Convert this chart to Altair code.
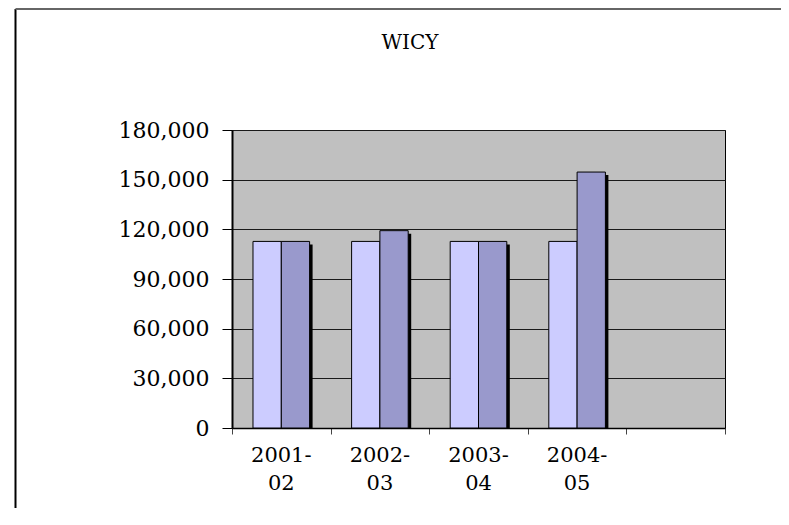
import altair as alt
import pandas as pd

title_text = ["WICY"]
years = ["2001-02", "2002-03", "2003-04", "2004-05"]
year_labels = ["2001-\n02", "2002-\n03", "2003-\n04", "2004-\n05"]
slots = years + ["_"]
series_a = [112700, 112700, 112700, 112700]
series_b = [112700, 119200, 112700, 154600]
y_ticks = [0, 30000, 60000, 90000, 120000, 150000, 180000]

rows = []
for yr, a, b in zip(years, series_a, series_b):
    rows.append({"year": yr, "series": "A", "value": a})
    rows.append({"year": yr, "series": "B", "value": b})
df = pd.DataFrame(rows)
lab_df = pd.DataFrame({"year": years, "label": year_labels})
title_df = pd.DataFrame({"t": title_text})

W, H = 493, 298
PL, PT = 224, 122
STEP = W / len(slots)

x_enc = alt.X(
    "year:N",
    scale=alt.Scale(domain=slots, paddingInner=0, paddingOuter=0),
    axis=alt.Axis(
        title=None,
        labels=False,
        tickBand="extent",
        tickSize=6,
        tickColor="#444444",
        domainColor="#000000",
        domainWidth=1.5,
        grid=False,
    ),
)
y_enc = alt.Y(
    "value:Q",
    scale=alt.Scale(domain=[0, 180000], nice=False),
    axis=alt.Axis(
        title=None,
        values=y_ticks,
        format=",.0f",
        tickSize=10,
        tickColor="#000000",
        domainColor="#000000",
        domainWidth=2,
        labelFont="DejaVu Serif",
        labelFontSize=22,
        labelColor="#000000",
        labelPadding=13,
        grid=True,
        gridColor="#1a1a1a",
        gridWidth=1,
    ),
)

shadow = alt.Chart(df).mark_bar(color="#000000", yOffset=3, clip=True).encode(
    x=x_enc,
    xOffset=alt.XOffset(
        "series:N",
        scale=alt.Scale(domain=["A", "B"], paddingInner=0, paddingOuter=0.742,
                        range=[3, STEP + 3]),
    ),
    y=y_enc,
)

bars = alt.Chart(df).mark_bar(stroke="#000000", strokeWidth=1).encode(
    x=x_enc,
    xOffset=alt.XOffset(
        "series:N",
        scale=alt.Scale(domain=["A", "B"], paddingInner=0, paddingOuter=0.742),
    ),
    y=y_enc,
    color=alt.Color(
        "series:N",
        scale=alt.Scale(domain=["A", "B"], range=["#CCCCFF", "#9999CC"]),
        legend=None,
    ),
)

labels = alt.Chart(lab_df).mark_text(
    font="DejaVu Serif",
    fontSize=21,
    color="#000000",
    align="center",
    baseline="alphabetic",
    lineBreak="\n",
    lineHeight=28,
).encode(
    x=alt.X("year:N", scale=alt.Scale(domain=slots, paddingInner=0, paddingOuter=0)),
    y=alt.value(H + 34),
    text="label:N",
)

title = alt.Chart(title_df).mark_text(
    font="DejaVu Serif",
    fontSize=20,
    color="#000000",
    align="center",
    baseline="alphabetic",
).encode(
    x=alt.value(178),
    y=alt.value(-81),
    text="t:N",
)

frame_df = pd.DataFrame({"k": [0]})
frame_left = alt.Chart(frame_df).mark_rule(color="#000000", strokeWidth=2).encode(
    x=alt.value(-216.5), y=alt.value(-PT + 1), y2=alt.value(H + 80)
)
frame_top = alt.Chart(frame_df).mark_rule(color="#666666", strokeWidth=2).encode(
    x=alt.value(-216.5), x2=alt.value(W + 56), y=alt.value(-PT + 1)
)

chart = (
    alt.layer(shadow, bars, labels, title, frame_left, frame_top)
    .resolve_scale(xOffset="independent")
    .properties(
        width=W,
        height=H,
        autosize=alt.AutoSizeParams(type="none"),
        padding={"left": PL, "top": PT, "right": 56, "bottom": 80},
        background="#FFFFFF",
    )
    .configure_view(fill="#C0C0C0", stroke="#000000", strokeWidth=1)
)

chart.save("out.html", embed_options={"renderer": "svg", "actions": False})
